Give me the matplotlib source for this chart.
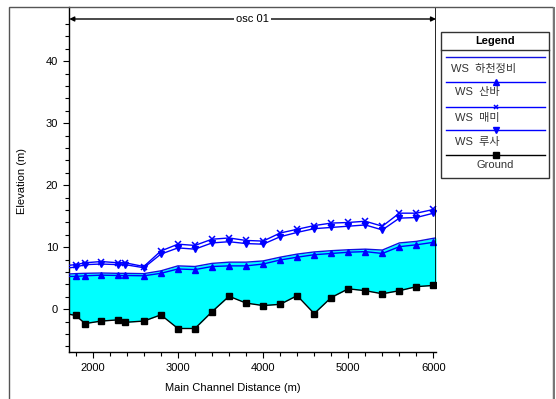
import matplotlib
matplotlib.use("Agg")
import matplotlib.pyplot as plt
from matplotlib.patches import Rectangle
from matplotlib.lines import Line2D

plt.rcParams['font.family'] = ['Liberation Sans', 'Noto Sans CJK KR', 'DejaVu Sans']

# Data
dist = [1725, 1800, 1910, 2100, 2300, 2380, 2600, 2800, 3000, 3200, 3400, 3600,
        3800, 4000, 4200, 4400, 4600, 4800, 5000, 5200, 5400, 5600, 5800, 6000, 6030]
ground = [-0.8, -1.0, -2.3, -1.9, -1.7, -2.1, -1.9, -0.9, -3.1, -3.1, -0.4, 2.1,
          1.0, 0.6, 0.8, 2.2, -0.7, 1.9, 3.3, 3.0, 2.5, 3.0, 3.65, 3.85, 3.85]
ws_base = [5.7, 5.75, 5.8, 5.85, 5.8, 5.8, 5.75, 6.2, 7.0, 6.9, 7.4, 7.6,
           7.6, 7.8, 8.4, 8.9, 9.25, 9.45, 9.6, 9.7, 9.55, 10.7, 10.95, 11.45, 11.5]
ws_sanba = [5.3, 5.3, 5.4, 5.5, 5.45, 5.45, 5.4, 5.8, 6.5, 6.4, 6.9, 7.0,
            7.0, 7.3, 7.95, 8.4, 8.8, 9.0, 9.2, 9.3, 9.0, 10.1, 10.4, 10.8, 10.85]
ws_maemi = [7.1, 7.2, 7.5, 7.7, 7.5, 7.5, 6.9, 9.4, 10.5, 10.3, 11.3, 11.5,
            11.1, 11.0, 12.3, 12.9, 13.5, 13.9, 14.0, 14.2, 13.4, 15.5, 15.5, 16.1, 16.2]
ws_rusa = [6.7, 6.8, 7.2, 7.3, 7.2, 7.2, 6.7, 8.9, 9.9, 9.7, 10.7, 10.9,
           10.6, 10.5, 11.7, 12.4, 13.0, 13.2, 13.4, 13.6, 12.8, 14.7, 14.8, 15.5, 15.55]

labels = ['WS  하천정비', 'WS  산바', 'WS  매미', 'WS  루사', 'Ground']
reach_name = 'osc 01'
xticks = [2000, 3000, 4000, 5000, 6000]
yticks = [0, 10, 20, 30, 40]

W, H = 556, 399
fig = plt.figure(figsize=(W / 100, H / 100), dpi=100)
fig.patch.set_facecolor('white')

def fx(px):
    return px / W

def fy(py):
    return 1 - py / H

# outer frame
fig.patches.append(Rectangle((fx(8.5), fy(420)), fx(553) - fx(8.5), fy(7) - fy(420),
                             transform=fig.transFigure, fill=False,
                             edgecolor='#555555', linewidth=1.0))
fig.patches.append(Rectangle((fx(553), fy(420)), fx(2), fy(7) - fy(420),
                             transform=fig.transFigure, fill=True,
                             facecolor='#777777', edgecolor='none'))

ax = fig.add_axes([fx(69.3), fy(351.7), fx(436) - fx(69.3), fy(7) - fy(351.7)])
ax.set_facecolor('white')
ymin, ymax = -6.84, 48.75
ax.set_xlim(dist[0], dist[-1])
ax.set_ylim(ymin, ymax)

ax.fill_between(dist, ground, ws_base, color='#00FFFF', linewidth=0, zorder=1)

mk = slice(1, -1)
blue = '#0000FF'
ax.plot(dist, ws_base, color='#1010E0', lw=1.0, zorder=3)
ax.plot(dist, ws_sanba, color=blue, lw=1.0, marker='^', ms=3.8, markevery=mk, zorder=3)
ax.plot(dist, ws_maemi, color=blue, lw=1.0, marker='x', ms=4, mew=1.1, markevery=mk, zorder=3)
ax.plot(dist, ws_rusa, color=blue, lw=1.0, marker='v', ms=3.8, markevery=mk, zorder=3)
ax.plot(dist, ground, color='black', lw=1.0, marker='s', ms=4.2, markevery=mk, zorder=4)

# reach boundary at downstream end
ax.vlines(dist[-1], ground[-1], ymax, color='black', lw=1.2, zorder=5)

for s in ['top', 'right']:
    ax.spines[s].set_visible(False)
for s in ['left', 'bottom']:
    ax.spines[s].set_linewidth(1.0)

ax.set_xticks(xticks)
ax.set_xticks(range(1800, 6001, 200), minor=True)
ax.set_yticks(yticks)
ax.set_yticks([v for v in range(-6, 48, 2)], minor=True)
ax.tick_params(which='major', length=4, width=0.8, labelsize=8, pad=4)
ax.tick_params(which='minor', length=3, width=0.8)

# reach arrow
ya = ymin + (ymax - ymin) * ((351.7 - 19) / (351.7 - 7))
ax.annotate('', xy=(dist[0], ya), xytext=(dist[-1], ya),
            arrowprops=dict(arrowstyle='<|-|>', color='black', lw=1.0,
                            mutation_scale=7, shrinkA=0, shrinkB=0),
            annotation_clip=False, zorder=6)
ax.text(0.5, (351.7 - 19) / (351.7 - 7), reach_name, transform=ax.transAxes,
        ha='center', va='center', fontsize=8,
        bbox=dict(facecolor='white', edgecolor='none', pad=1.5), zorder=7)

fig.text(fx(22), fy(181), 'Elevation (m)', rotation=90, ha='center', va='center', fontsize=8)
fig.text(fx(233), fy(388), 'Main Channel Distance (m)', ha='center', va='center', fontsize=8)

# legend box drawn manually
lx0, lx1, ly0, ly1 = 441.5, 548.5, 32, 178
fig.patches.append(Rectangle((fx(lx0), fy(ly1)), fx(lx1) - fx(lx0), fy(ly0) - fy(ly1),
                             transform=fig.transFigure, fill=True, facecolor='white',
                             edgecolor='#333333', linewidth=1.0))
fig.add_artist(Line2D([fx(lx0), fx(lx1)], [fy(50), fy(50)], color='#333333', lw=1.0))
fig.text(fx((lx0 + lx1) / 2), fy(41), 'Legend', ha='center', va='center',
         fontsize=8, fontweight='bold')

entries = [
    (57, 69, dict(color='#1010E0', marker=None), labels[0], 451, 'left'),
    (81.7, 92.5, dict(color=blue, marker='^', ms=3.8), labels[1], 455, 'left'),
    (107, 118, dict(color=blue, marker='x', ms=3.5, mew=1.1), labels[2], 455, 'left'),
    (130, 142, dict(color=blue, marker='v', ms=3.8), labels[3], 455, 'left'),
    (155, 165.5, dict(color='black', marker='s', ms=4), labels[4], 495, 'center'),
]
for ly, ty, style, lab, tx, ha in entries:
    m = style.pop('marker')
    col = style.pop('color')
    fig.add_artist(Line2D([fx(446), fx(545)], [fy(ly), fy(ly)], lw=1.0,
                          color=col, transform=fig.transFigure))
    if m:
        fig.add_artist(Line2D([fx(495.5)], [fy(ly)], marker=m, lw=0,
                              color=col, transform=fig.transFigure, **style))
    fig.text(fx(tx), fy(ty), lab, ha=ha, va='center', fontsize=8, color='#333333')

fig.savefig('out.png', dpi=100)
